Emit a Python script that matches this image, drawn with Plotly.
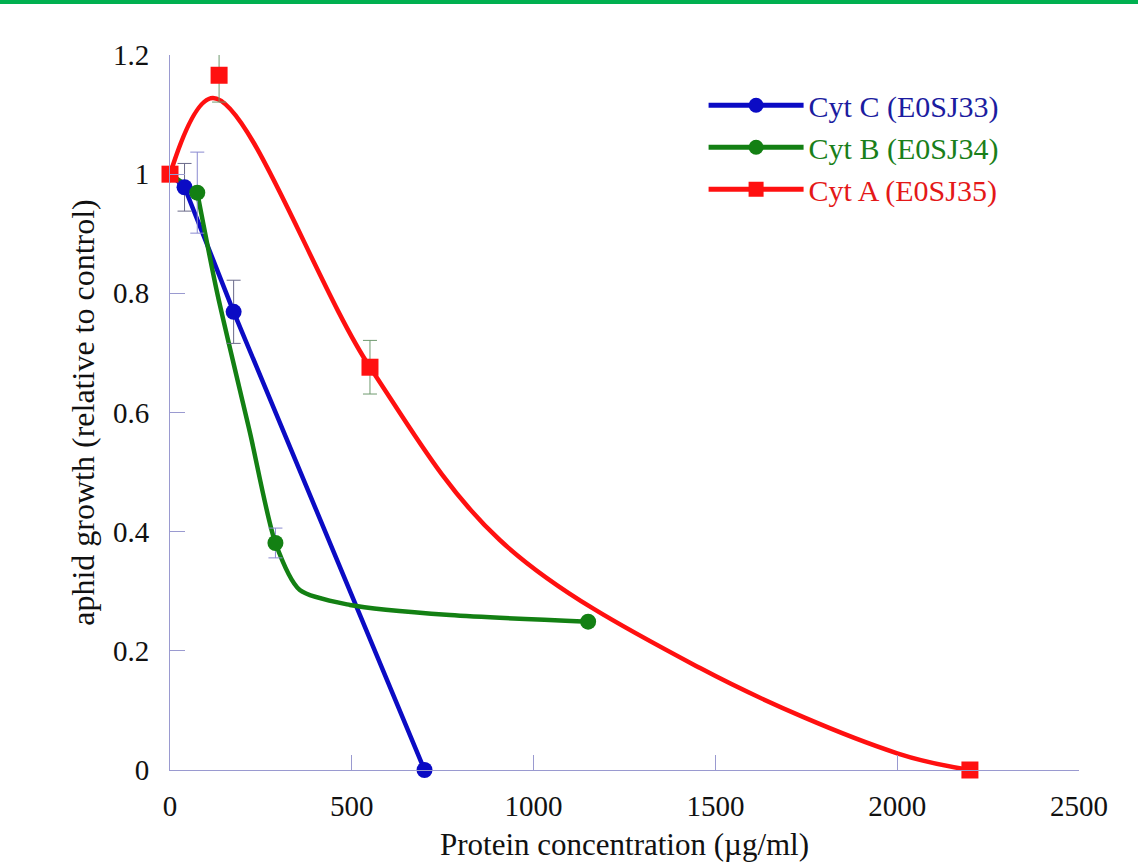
import plotly.graph_objects as go

# ---- data ----
names = ["Cyt C (E0SJ33)", "Cyt B (E0SJ34)", "Cyt A (E0SJ35)"]

# measured points (markers)
cytc_x = [0, 40, 175, 700]
cytc_y = [1.0, 0.978, 0.769, 0.0]
cytc_err = [0, 0.04, 0.053, 0]

cytb_x = [0, 75, 290, 1150]
cytb_y = [1.0, 0.969, 0.381, 0.249]
cytb_err = [0, 0.068, 0.025, 0]

cyta_x = [0, 135, 550, 2200]
cyta_y = [1.0, 1.166, 0.676, 0.0]
cyta_err = [0, 0.045, 0.045, 0]

# drawn trend curves
cytb_curve_x = [75, 130, 220, 290, 357, 495, 770, 1150]
cytb_curve_y = [0.969, 0.8, 0.566, 0.381, 0.302, 0.277, 0.26, 0.249]

cyta_curve_x = [0, 118, 550, 907, 1458, 2000, 2200]
cyta_curve_y = [1.0, 1.128, 0.676, 0.386, 0.171, 0.028, 0.0]

x_ticks = [0, 500, 1000, 1500, 2000, 2500]
y_ticks = [0, 0.2, 0.4, 0.6, 0.8, 1, 1.2]
y_tick_text = ["0", "0.2", "0.4", "0.6", "0.8", "1", "1.2"]

# ---- styles ----
BLUE = "#0b0bc4"
GREEN = "#138013"
RED = "#ff1010"
BLUE_TXT = "#1c1ca0"
GREEN_TXT = "#1a7f1a"
RED_TXT = "#e41818"
AXIS = "#9a9ad0"
FONT = "Liberation Serif"
TXT = "#111111"

fig = go.Figure()

# Cyt C: straight segments
fig.add_trace(go.Scatter(x=cytc_x, y=cytc_y, mode="lines",
                         line=dict(color=BLUE, width=4.5), legendgroup="g0",
                         showlegend=False, cliponaxis=False, hoverinfo="skip"))
# Cyt B: first short segment + smooth curve
fig.add_trace(go.Scatter(x=cytb_x[:2], y=cytb_y[:2], mode="lines",
                         line=dict(color=GREEN, width=4.5), legendgroup="g1",
                         showlegend=False, cliponaxis=False, hoverinfo="skip"))
fig.add_trace(go.Scatter(x=cytb_curve_x, y=cytb_curve_y, mode="lines",
                         line=dict(color=GREEN, width=4.5, shape="spline", smoothing=0.7),
                         legendgroup="g1", showlegend=False, cliponaxis=False, hoverinfo="skip"))
# Cyt A: smooth curve
fig.add_trace(go.Scatter(x=cyta_curve_x, y=cyta_curve_y, mode="lines",
                         line=dict(color=RED, width=4.5, shape="spline", smoothing=1.0),
                         legendgroup="g2", showlegend=False, cliponaxis=False, hoverinfo="skip"))

series = [
    dict(name=names[0], mx=cytc_x, my=cytc_y, err=cytc_err, color=BLUE, tcolor=BLUE_TXT,
         symbol="circle", size=16, ecolor="#6a6a8a"),
    dict(name=names[1], mx=cytb_x, my=cytb_y, err=cytb_err, color=GREEN, tcolor=GREEN_TXT,
         symbol="circle", size=16, ecolor="#8a8ad0"),
    dict(name=names[2], mx=cyta_x, my=cyta_y, err=cyta_err, color=RED, tcolor=RED_TXT,
         symbol="square", size=17, ecolor="#6f9a6f"),
]
for i, s in enumerate(series):
    fig.add_trace(go.Scatter(
        x=s["mx"], y=s["my"], mode="markers",
        marker=dict(color=s["color"], symbol=s["symbol"], size=s["size"]),
        error_y=dict(type="data", array=s["err"], visible=True, color=s["ecolor"], thickness=1, width=7),
        legendgroup=f"g{i}", showlegend=False, cliponaxis=False))
for i, s in enumerate(series):
    fig.add_trace(go.Scatter(
        x=[None], y=[None], mode="lines+markers",
        name=f"<span style='color:{s['tcolor']}'>{s['name']}</span>",
        line=dict(color=s["color"], width=5),
        marker=dict(color=s["color"], symbol=s["symbol"], size=15),
        legendgroup=f"g{i}", showlegend=True))

# green bar at the very top of the page
fig.add_shape(type="rect", xref="paper", yref="paper",
              x0=-0.25, x1=1.1, y0=1.0713, y1=1.1,
              fillcolor="#00b050", line=dict(width=0), layer="above")

fig.update_layout(
    width=1138, height=862,
    margin=dict(l=170, r=59, t=55, b=92, autoexpand=False),
    paper_bgcolor="white", plot_bgcolor="white",
    font=dict(family=FONT, size=29, color=TXT),
    legend=dict(x=0.587, y=0.966, xanchor="left", yanchor="top",
                font=dict(family=FONT, size=30), bgcolor="rgba(0,0,0,0)",
                traceorder="normal", itemwidth=95),
    xaxis=dict(range=[0, 2500], tickvals=x_ticks, ticks="inside", ticklen=15,
               tickcolor=AXIS, showline=True, linecolor=AXIS, linewidth=1,
               showgrid=False, zeroline=False, ticklabelstandoff=10, automargin=False,
               tickfont=dict(family=FONT, size=29, color=TXT),
               title=dict(text="Protein concentration (µg/ml)", standoff=14,
                          font=dict(family=FONT, size=31, color=TXT))),
    yaxis=dict(range=[0, 1.2], tickvals=y_ticks, ticktext=y_tick_text, ticks="inside", ticklen=15,
               tickcolor=AXIS, showline=True, linecolor=AXIS, linewidth=1,
               showgrid=False, zeroline=False, ticklabelstandoff=14, automargin=False,
               tickfont=dict(family=FONT, size=29, color=TXT),
               title=dict(text="aphid growth (relative to control)", standoff=8,
                          font=dict(family=FONT, size=32, color=TXT))),
)

fig.write_html("out.html", config={"displayModeBar": False},
               post_script="document.body.style.margin='0px';")
